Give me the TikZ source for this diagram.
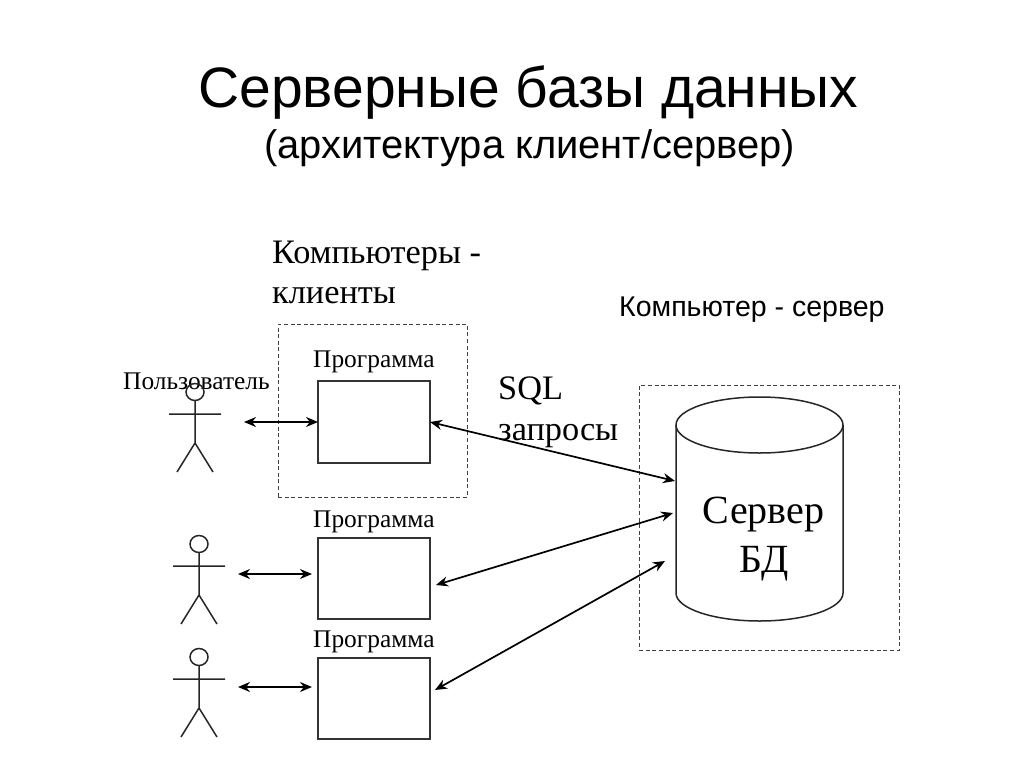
\documentclass[tikz,border=0pt]{standalone}
\usepackage{fontspec}
\setmainfont{Liberation Serif}
\newfontfamily\arialf{Liberation Sans}
\usetikzlibrary{arrows.meta}
\tikzset{
  x=1pt,y=-1pt,
  ln/.style={draw=black!85,line width=1.5pt},
  dashbox/.style={draw=black!75,line width=1.4pt,dash pattern=on 4pt off 2.6pt},
  progbox/.style={draw=black!80,line width=1.4pt,fill=white,minimum width=112pt,inner sep=0pt,anchor=north west},
  arr/.style={draw=black,line width=1.7pt,{Stealth[length=12pt,width=10pt]}-{Stealth[length=12pt,width=10pt]}},
  txt/.style={inner sep=0pt,anchor=base west,text=black},
  lab/.style={txt,font=\fontsize{25.4}{30}\selectfont},
  man/.pic={
    \draw[ln] (0,-22) ellipse (9 and 8.5);
    \draw[ln] (0,-13.5) -- (0,29) (-26,0) -- (26,0) (-18,58) -- (0,29) -- (18,58);
  }
}
\begin{document}
\begin{tikzpicture}
\useasboundingbox (0,0) rectangle (1024,768);
\node[txt,font=\arialf\fontsize{57}{66}\selectfont] (title) at (198,107) {Серверные базы данных};
\node[txt,font=\arialf\fontsize{39.9}{48}\selectfont] (sub) at (264,158) {(архитектура клиент/сервер)};
\node[txt,font=\fontsize{34.3}{40}\selectfont] (cl1) at (272,263) {Компьютеры -};
\node[txt,font=\fontsize{34.3}{40}\selectfont] (cl2) at (272,303) {клиенты};
\node[txt,font=\arialf\fontsize{28.5}{34}\selectfont] (srvlab) at (619,316) {Компьютер - сервер};
\node[draw=none,dashbox,minimum width=189pt,minimum height=173pt,inner sep=0pt,anchor=north west] (cbox) at (277.5,323.5) {};
\node[draw=none,dashbox,minimum width=260pt,minimum height=265pt,inner sep=0pt,anchor=north west] (sbox) at (638.5,384.5) {};
\node[progbox,minimum height=82pt] (p1) at (317.3,380.3) {};
\node[progbox,minimum height=81pt] (p2) at (317.3,537.3) {};
\node[progbox,minimum height=81pt] (p3) at (317.3,657.3) {};
\node[lab] (l1) at (313,367) {Программа};
\node[lab] (l2) at (313,527) {Программа};
\node[lab] (l3) at (313,647) {Программа};
\node[txt,font=\fontsize{25.4}{30}\selectfont] (user) at (123,389) {Пользователь};
\node[txt,font=\fontsize{34.3}{40}\selectfont] (sql1) at (498,399) {SQL};
\node[txt,font=\fontsize{34.3}{40}\selectfont] (sql2) at (498,440) {запросы};
% cylinder
\draw[ln] (676,425) arc[start angle=180,end angle=360,x radius=83.5,y radius=-28];
\draw[ln] (676,425) arc[start angle=180,end angle=0,x radius=83.5,y radius=-28];
\draw[ln] (676,425) -- (676,593) arc[start angle=180,end angle=0,x radius=83.5,y radius=28] -- (843,425);
\node[txt,anchor=base,font=\fontsize{40}{48}\selectfont] (db1) at (763.5,523) {Сервер};
\node[txt,anchor=base,font=\fontsize{40}{48}\selectfont] (db2) at (764,572) {БД};
% people
\pic at (195,414) {man};
\pic at (199,566) {man};
\pic at (199,679) {man};
% user arrows
\coordinate (u1) at (244,422);
\coordinate (p1w) at (318,422);
\coordinate (u2) at (238,574);
\coordinate (p2w) at (312,574);
\coordinate (u3) at (238,687);
\coordinate (p3w) at (312,687);
\draw[arr] (u1) -- (p1w);
\draw[arr] (u2) -- (p2w);
\draw[arr] (u3) -- (p3w);
% SQL arrows
\coordinate (p1e) at (430,422);
\coordinate (p2e) at (436,585);
\coordinate (p3e) at (435,690);
\coordinate (s1) at (675,481);
\coordinate (s2) at (673,513);
\coordinate (s3) at (665,561);
\draw[arr] (p1e) -- (s1);
\draw[arr] (p2e) -- (s2);
\draw[arr] (p3e) -- (s3);
\end{tikzpicture}
\end{document}
